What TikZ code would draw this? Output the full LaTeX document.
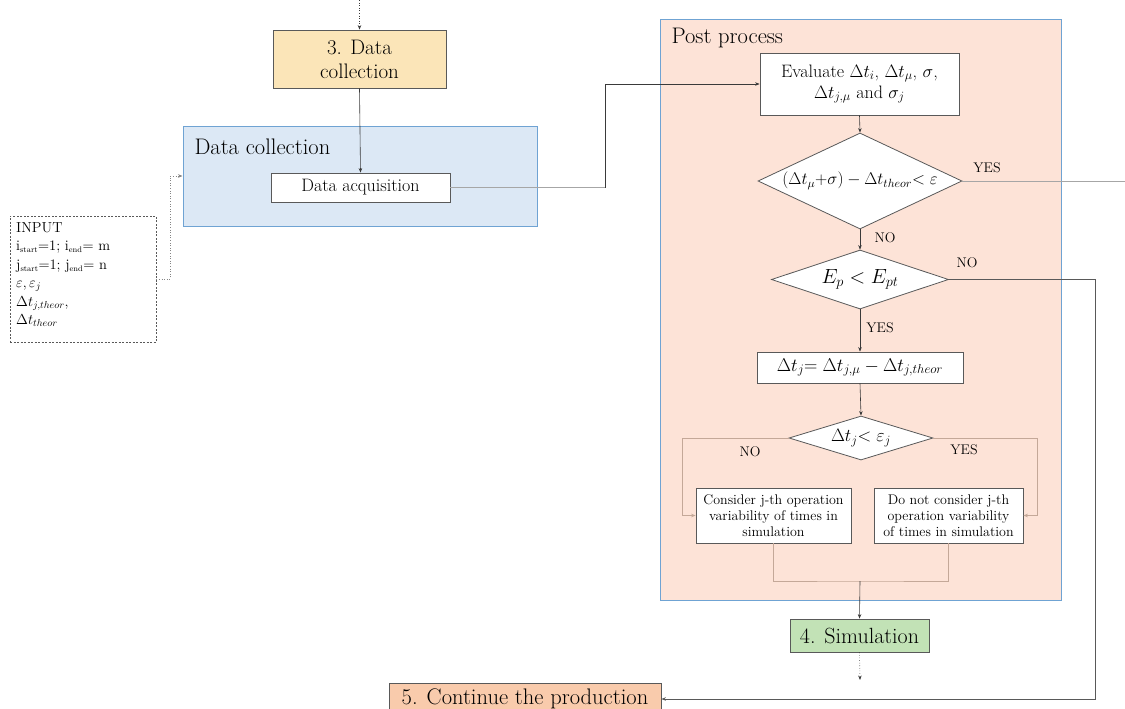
\RequirePackage{fix-cm}
\documentclass[tikz,border=0pt]{standalone}
\usepackage{fontspec}
\usetikzlibrary{shapes.geometric,arrows.meta}

\definecolor{boxline}{HTML}{595959}
\definecolor{linedark}{HTML}{3A3A3A}
\definecolor{linegray}{HTML}{A6A6A6}
\definecolor{linetan}{HTML}{C4A898}
\definecolor{blueline}{HTML}{6FA3D3}
\definecolor{stepyellow}{HTML}{FBE5B8}
\definecolor{stepgreen}{HTML}{C2E2B6}
\definecolor{steporange}{HTML}{F9CBAC}
\definecolor{dcblue}{HTML}{DCE8F5}
\definecolor{ppsalmon}{HTML}{FDE3D7}

% small text subscripts for the input list
\newcommand{\lowidx}[1]{\textsubscript{\fontsize{8}{8}\selectfont #1}}

\tikzset{
  stepbox/.style={draw=boxline, line width=0.8pt, inner sep=2pt, align=center, text=black},
  region/.style={draw=blueline, line width=1pt, inner sep=0pt},
  decision/.style={diamond, draw=boxline, fill=white, line width=0.8pt, inner sep=0pt},
  flow/.style={-{Stealth[length=4.5pt,width=3.5pt]}, line width=0.6pt, draw=linedark},
  dotflow/.style={flow, dotted},
  lbl/.style={font=\fontsize{14}{16}\selectfont, text=black},
  big/.style={font=\fontsize{21}{24}\selectfont},
  bigger/.style={font=\fontsize{22.5}{26}\selectfont},
  mid/.style={font=\fontsize{18}{21}\selectfont},
  small/.style={font=\fontsize{14}{16}\selectfont}
}

\begin{document}
\begin{tikzpicture}[x=1pt,y=-1pt]
\useasboundingbox (0,0) rectangle (1125,709);

% containers
\node[region, fill=dcblue, minimum width=354, minimum height=100] (dcont) at (360,176) {};
\node[bigger, anchor=west] (dclabel) at (191,147) {Data collection};
\node[region, fill=ppsalmon, minimum width=401, minimum height=580] (pp) at (860.5,310) {};
\node[bigger, anchor=west] (pplabel) at (668,38) {Post process};

% main steps
\node[stepbox, fill=stepyellow, big, minimum width=173, minimum height=58] (step3) at (359.5,59) {3. Data\\collection};
\node[stepbox, fill=white, font=\fontsize{18}{20}\selectfont, minimum width=179, minimum height=29] (dacq) at (360.5,187.5) {Data acquisition};
\node[stepbox, fill=stepgreen, font=\fontsize{22}{24}\selectfont, minimum width=139, minimum height=33] (sim) at (859.5,635.5) {4. Simulation};
\node[stepbox, fill=steporange, font=\fontsize{22.5}{24}\selectfont, minimum width=272, minimum height=32] (cont) at (525,699) {5. Continue the production};

% input data
\node[draw=boxline, line width=0.7pt, dash pattern=on 2pt off 1.5pt, minimum width=146, minimum height=126, inner sep=0pt] (inp) at (83,279) {};
\node[anchor=north west, align=left, inner sep=0pt, text=black, font=\fontsize{14.5}{18.5}\selectfont] (inptxt) at (16,222)
  {INPUT\\
   i\lowidx{start}=1; i\lowidx{end}= m\\
   j\lowidx{start}=1; j\lowidx{end}= n\\
   $\varepsilon, \varepsilon_j$\\
   $\Delta t_{j,theor}$,\\
   $\Delta t_{theor}$};

% post process
\node[stepbox, fill=white, mid, minimum width=199, minimum height=62] (eval) at (859.5,84)
  {Evaluate $\Delta t_i$, $\Delta t_\mu$, $\sigma$,\\ $\Delta t_{j,\mu}$ and $\sigma_j$};
\node[decision, minimum width=204, minimum height=96] (d1) at (860,181) {};
\node[font=\fontsize{17}{20}\selectfont] (d1txt) at (d1) {$(\Delta t_{\mu}{+}\sigma) - \Delta t_{theor}{<}\;\varepsilon$};
\node[decision, minimum width=177, minimum height=59] (d2) at (860,279.5) {};
\node[font=\fontsize{20.5}{22}\selectfont] (d2txt) at (d2) {$E_p < E_{pt}$};
\node[stepbox, fill=white, font=\fontsize{18.5}{20}\selectfont, minimum width=206, minimum height=31] (dtj) at (860,367.5)
  {$\Delta t_j{=}\;\Delta t_{j,\mu} - \Delta t_{j,theor}$};
\node[decision, minimum width=144, minimum height=44] (d3) at (861,438) {};
\node[font=\fontsize{18}{20}\selectfont] (d3txt) at (d3) {$\Delta t_j{<}\;\varepsilon_j$};
\node[stepbox, fill=white, small, minimum width=155, minimum height=55, inner sep=1pt] (cons) at (773.5,515.5)
  {Consider j-th operation\\ variability of times in\\ simulation};
\node[stepbox, fill=white, small, minimum width=149, minimum height=55, inner sep=1pt] (ncons) at (948.5,515.5)
  {Do not consider j-th\\ operation variability\\ of times in simulation};

% junction points
\coordinate (top) at (359.5,0);
\coordinate (jin) at (170,0);
\coordinate (jdc) at (605,0);
\coordinate (rightedge) at (1125,181);
\coordinate (jr) at (1095,0);
\coordinate (jl3) at (682,0);
\coordinate (jr3) at (1037,0);
\coordinate (merge) at (860,581);
\coordinate (simend) at (860,680);

% connectors
\draw[dotflow] (top) -- (step3.north);
\draw[flow] (step3.south) -- (dacq.north);
\draw[dotflow, draw=linegray!80!black] (inp.east) -- (inp.east -| jin) |- (dcont.west);
\draw[line width=0.6pt, draw=linegray] (dacq.east) -- (dacq.east -| jdc);
\draw[flow] (dacq.east -| jdc) -- (jdc |- eval.west) -- (eval.west);
\draw[flow] (eval.south) -- (d1.north);
\draw[line width=0.6pt, draw=linegray] (d1.east) -- (rightedge);
\draw[flow] (d1.south) -- (d2.north);
\draw[flow, line width=0.8pt, draw=boxline] (d2.east) -- (d2.east -| jr) |- (cont.east);
\draw[flow] (d2.south) -- (dtj.north);
\draw[flow] (dtj.south) -- (d3.north);
\draw[flow, draw=linetan] (d3.west) -- (d3.west -| jl3) |- (cons.west);
\draw[flow, draw=linetan] (d3.east) -- (d3.east -| jr3) |- (ncons.east);
\draw[line width=0.6pt, draw=linetan] (cons.south) |- (merge) -| (ncons.south);
\draw[flow] (merge) -- (sim.north);
\draw[dotflow] (sim.south) -- (simend);

% branch labels
\node[lbl] (yes1) at (987,168) {YES};
\node[lbl] (no1) at (885,238) {NO};
\node[lbl] (no2) at (967,263) {NO};
\node[lbl] (yes2) at (880,328) {YES};
\node[lbl] (no3) at (750,452) {NO};
\node[lbl] (yes3) at (964,450) {YES};
\end{tikzpicture}
\end{document}
